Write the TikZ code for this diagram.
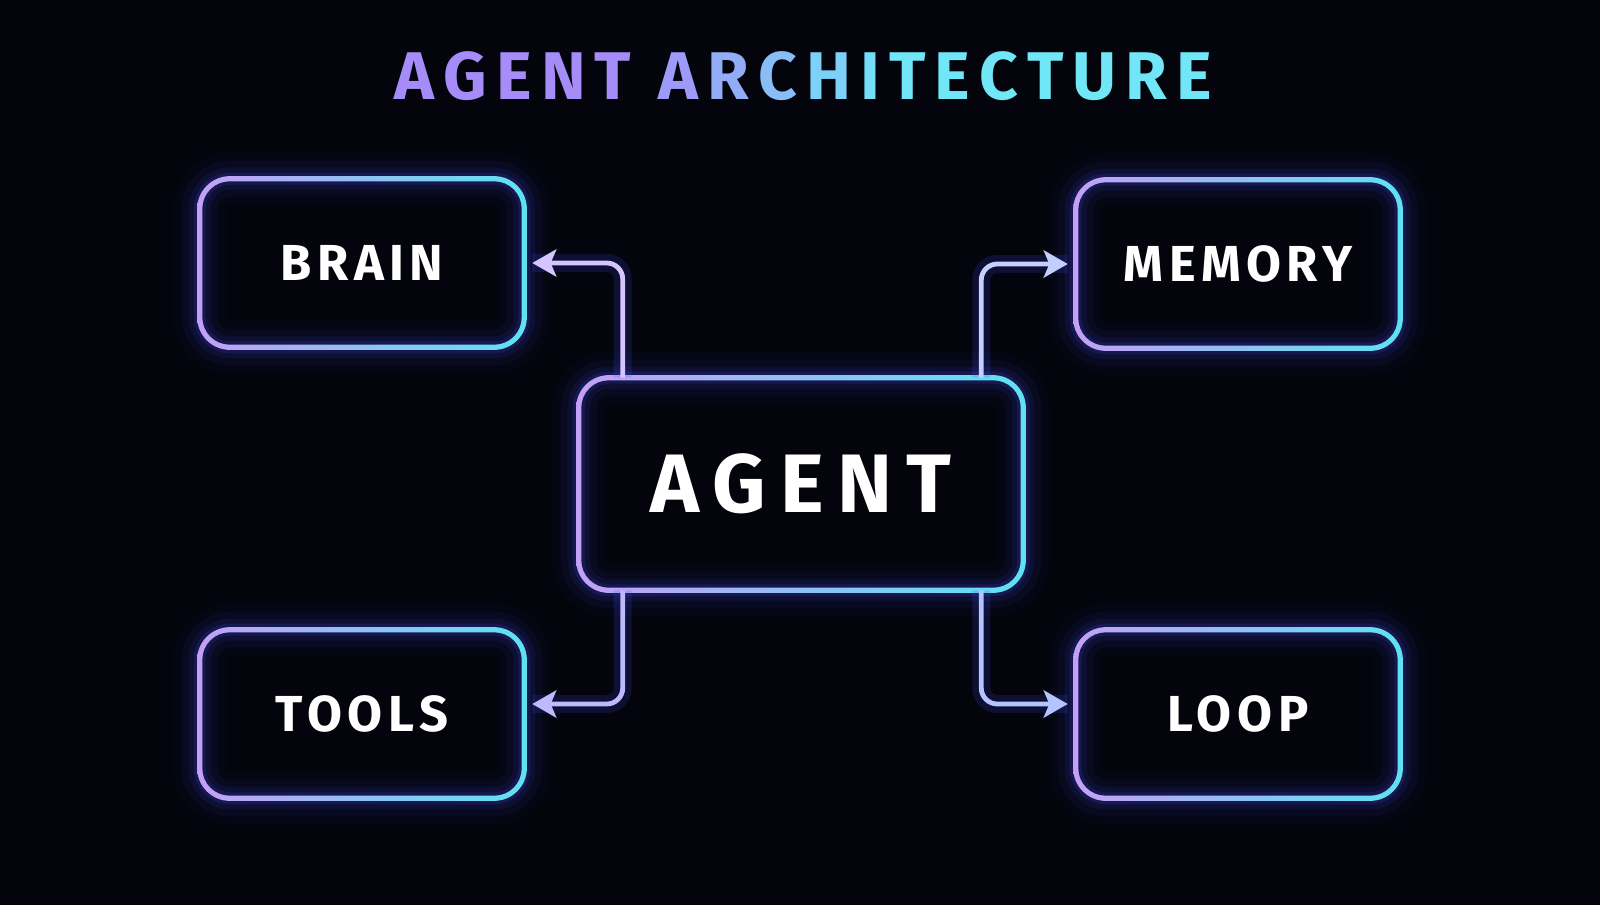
\documentclass[tikz,border=0pt]{standalone}
\usepackage{fontspec}
\setmainfont{Fira Sans}
\newfontfamily\boxfont[LetterSpace=11]{Fira Sans}
\newfontfamily\agentfont[LetterSpace=17]{Fira Sans}
\newfontfamily\titlefont{Fira Sans}
\usetikzlibrary{arrows.meta}
\pgfdeclarelayer{bg}
\pgfsetlayers{bg,main}
\definecolor{bgdark}{HTML}{03040C}
\definecolor{lav}{HTML}{C49FF6}
\definecolor{midc}{HTML}{B0C4F8}
\definecolor{cyn}{HTML}{5EE2F2}
\definecolor{glowc}{HTML}{3F4CE6}
\definecolor{tpurple}{HTML}{A58CF8}
\definecolor{tcyan}{HTML}{70E6F6}
\colorlet{ta}{tpurple!85!tcyan}
\colorlet{tb}{tpurple!65!tcyan}
\colorlet{tc}{tpurple!45!tcyan}
\colorlet{td}{tpurple!25!tcyan}
\colorlet{te}{tpurple!10!tcyan}
% one title letter, coloured and spaced
\newcommand{\tlet}[2]{{\color{#1}#2}\kern0.135em}
\begin{document}
\begin{tikzpicture}[>={Stealth[length=0.6cm,width=0.68cm,inset=0.14cm]},
  box/.style={minimum width=8.1cm,minimum height=4.2cm,text=white,
    font=\boxfont\bfseries\fontsize{36}{40}\selectfont},
  bigbox/.style={box,minimum width=11.1cm,minimum height=5.3cm,
    font=\agentfont\bfseries\fontsize{59}{64}\selectfont},
  conn/.style={->,line width=0.12cm,rounded corners=0.4cm,
    preaction={draw=glowc,line width=0.45cm,opacity=0.18,-}},
]
\useasboundingbox (0,0) rectangle (40,-22.625);

% title
\node[font=\titlefont\bfseries\fontsize{48}{52}\selectfont] (title) at (20.2,-1.9)
  {\tlet{tpurple}{A}\tlet{tpurple}{G}\tlet{tpurple}{E}\tlet{tpurple}{N}\tlet{tpurple}{T}\hspace{0.45cm}%
   \tlet{ta}{A}\tlet{tb}{R}\tlet{tc}{C}\tlet{td}{H}\tlet{te}{I}\tlet{tcyan}{T}\tlet{tcyan}{E}%
   \tlet{tcyan}{C}\tlet{tcyan}{T}\tlet{tcyan}{U}\tlet{tcyan}{R}\tlet{tcyan}{E}};

% boxes
\node[box] (brain) at (9.05,-6.575) {BRAIN};
\node[box] (memory) at (30.95,-6.6) {MEMORY};
\node[box] (tools) at (9.05,-17.85) {TOOLS};
\node[box] (loop) at (30.95,-17.85) {LOOP};
\node[bigbox] (agent) at (20.025,-12.1) {AGENT};

\begin{pgfonlayer}{bg}
\fill[bgdark] (0,0) rectangle (40,-22.625);
\foreach \n in {brain,memory,tools,loop,agent}{
  \foreach \w/\o in {1.3cm/0.04,0.9cm/0.06,0.55cm/0.1,0.3cm/0.16}
    \draw[glowc,line width=\w,opacity=\o,rounded corners=0.75cm] (\n.south west) rectangle (\n.north east);
  \shade[left color=lav,middle color=midc,right color=cyn,even odd rule]
    [rounded corners=0.82cm] ([shift={(-0.065,-0.065)}]\n.south west) rectangle ([shift={(0.065,0.065)}]\n.north east)
    [rounded corners=0.68cm] ([shift={(0.065,0.065)}]\n.south west) rectangle ([shift={(-0.065,-0.065)}]\n.north east);
}
\end{pgfonlayer}

% connectors
\draw[conn,draw={rgb,255:red,214;green,196;blue,255}] ([xshift=1.1cm]agent.north west) |- ([xshift=0.2cm]brain.east);
\draw[conn,draw={rgb,255:red,196;green,206;blue,255}] ([xshift=-1.05cm]agent.north east) |- ([xshift=-0.2cm]memory.west);
\draw[conn,draw={rgb,255:red,190;green,184;blue,255}] ([xshift=1.1cm]agent.south west) |- ([xshift=0.2cm,yshift=0.25cm]tools.east);
\draw[conn,draw={rgb,255:red,180;green,196;blue,255}] ([xshift=-1.05cm]agent.south east) |- ([xshift=-0.2cm,yshift=0.25cm]loop.west);
\end{tikzpicture}
\end{document}
